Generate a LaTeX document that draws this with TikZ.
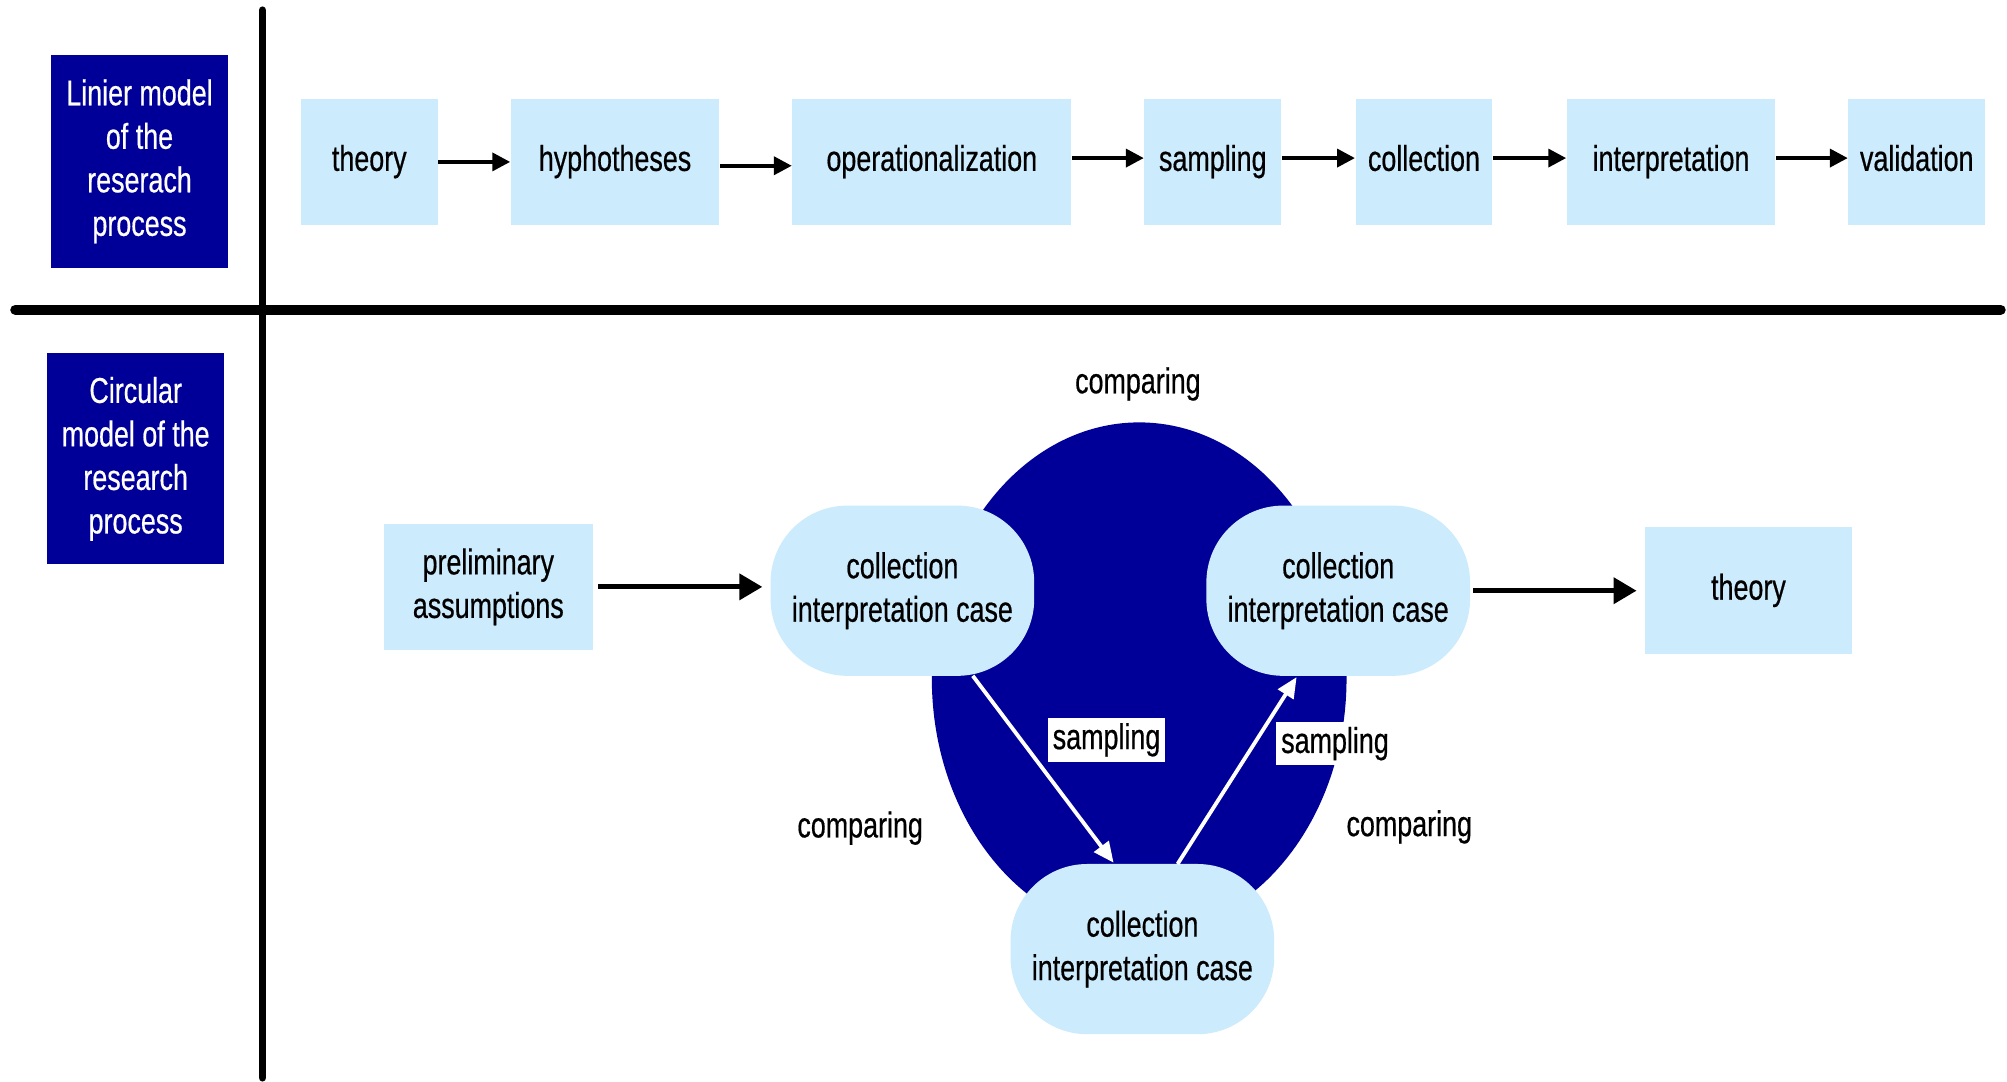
\documentclass[tikz,border=0pt]{standalone}
\usepackage{fontspec}
\setmainfont[FakeStretch=0.75,FakeBold=0.5]{Liberation Sans}
\usetikzlibrary{arrows.meta}
\definecolor{dblue}{RGB}{0,0,153}
\definecolor{lblue}{RGB}{204,235,252}
\begin{document}
\begin{tikzpicture}[x=0.5pt,y=-0.5pt,
  txt/.style={font=\fontsize{14}{17}\selectfont, align=center},
  pbox/.style={txt, fill=lblue, inner sep=0pt, minimum height=49.5pt},
  lbox/.style={pbox, text height=10pt, text depth=3pt},
  hbox/.style={txt, fill=dblue, text=white, inner sep=0pt, minimum width=69pt},
  rbox/.style={txt, fill=lblue, inner sep=0pt, minimum width=103pt, minimum height=66.5pt, rounded corners=30pt},
  sarrow/.style={line width=1.5pt, -{Triangle[length=7pt,width=7pt]}},
  barrow/.style={line width=2pt, -{Triangle[length=9pt,width=10pt]}},
  warrow/.style={draw=white, line width=1.5pt, -{Triangle[length=8pt,width=7pt,fill=white]}},
  slabel/.style={txt, fill=white, inner sep=2pt},
  rule/.style={line cap=round}
]
\useasboundingbox (0,0) rectangle (1568,845);

% dividing lines
\coordinate (vt) at (205,8);
\coordinate (vb) at (205,842);
\coordinate (hl) at (12,242);
\coordinate (hr) at (1563,242);
\draw[rule, line width=3pt] (vt) -- (vb);
\draw[rule, line width=4pt] (hl) -- (hr);

% header boxes
\node[hbox, minimum height=83pt] (h1) at (109,126) {Linier model\\of the\\reserach\\process};
\node[hbox, minimum height=82.5pt] (h2) at (106,358.5) {Circular\\model of the\\research\\process};

% linear model
\node[lbox, minimum width=53.5pt] (t1) at (288.5,126.5) {theory};
\node[lbox, minimum width=81.5pt] (t2) at (480.5,126.5) {hyphotheses};
\node[lbox, minimum width=109pt] (t3) at (728,126.5) {operationalization};
\node[lbox, minimum width=53.5pt] (t4) at (947.5,126.5) {sampling};
\node[lbox, minimum width=53.5pt] (t5) at (1112.5,126.5) {collection};
\node[lbox, minimum width=81.5pt] (t6) at (1305.5,126.5) {interpretation};
\node[lbox, minimum width=53.5pt] (t7) at (1497.5,126.5) {validation};
\draw[sarrow] ([yshift=0pt]t1.east) -- ([yshift=0pt]t2.west);
\draw[sarrow] ([yshift=-1.5pt]t2.east) -- ([yshift=-1.5pt]t3.west);
\draw[sarrow] ([yshift=1.5pt]t3.east) -- ([yshift=1.5pt]t4.west);
\draw[sarrow] ([yshift=1.5pt]t4.east) -- ([yshift=1.5pt]t5.west);
\draw[sarrow] ([yshift=1.5pt]t5.east) -- ([yshift=1.5pt]t6.west);
\draw[sarrow] ([yshift=1.5pt]t6.east) -- ([yshift=1.5pt]t7.west);

% circular model
\fill[dblue] (890,530) ellipse [x radius=162, y radius=200];
\node[pbox, minimum width=81.5pt] (pa) at (381.5,458.5) {preliminary\\assumptions};
\node[rbox] (c1) at (705,461.5) {collection\\interpretation case};
\node[rbox] (c2) at (1045.5,461.5) {collection\\interpretation case};
\node[rbox] (c3) at (892.5,741.5) {collection\\interpretation case};
\node[lbox, minimum width=81pt] (th) at (1366,461.5) {theory};

\draw[barrow] ([xshift=2pt]pa.east) -- ([xshift=-3pt]c1.west |- pa.east);
\draw[barrow] ([xshift=1pt]c2.east) -- ([xshift=-3pt]th.west);

\coordinate (a1s) at (760,528);
\coordinate (a1e) at (870,674);
\coordinate (a2s) at (920,675);
\coordinate (a2e) at (1013,529);
\draw[warrow] (a1s) -- (a1e);
\draw[warrow] (a2s) -- (a2e);

\node[slabel] (s1) at (864.5,578) {sampling};
\node[slabel] (s2) at (1043,581) {sampling};

\node[txt] (cp1) at (889,300) {comparing};
\node[txt] (cp2) at (672,647) {comparing};
\node[txt] (cp3) at (1101,646) {comparing};
\end{tikzpicture}
\end{document}
